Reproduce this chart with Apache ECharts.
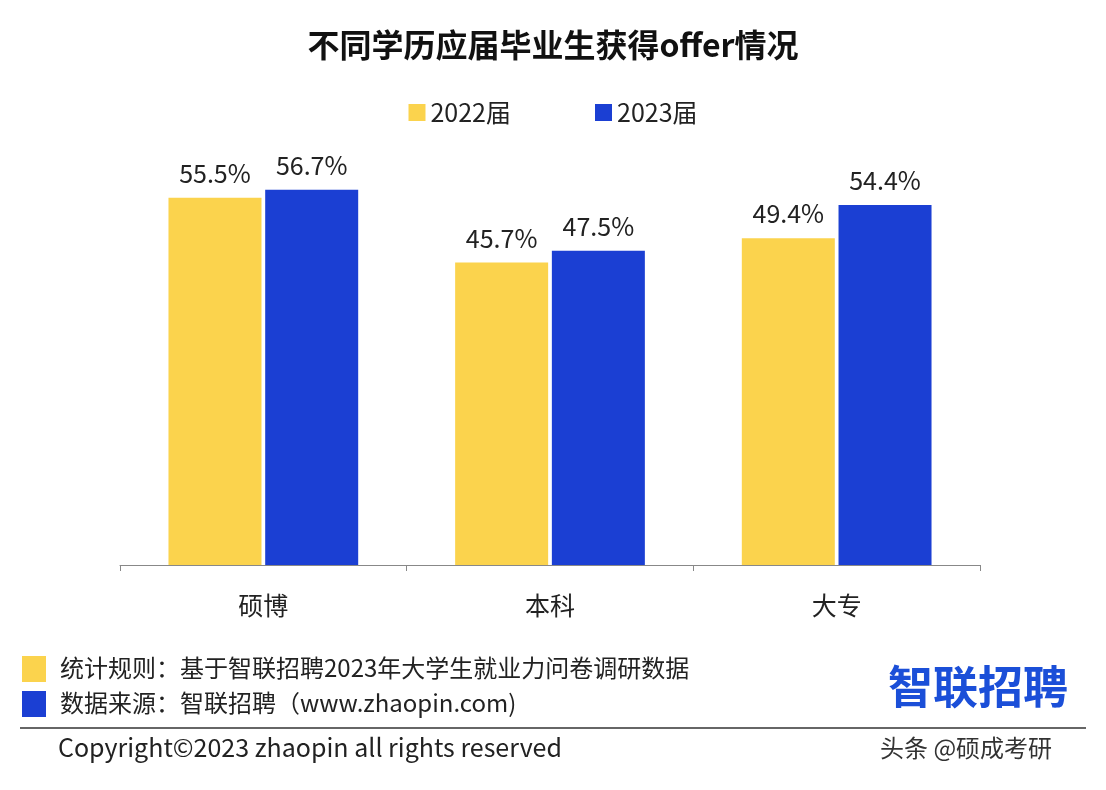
<!DOCTYPE html><html><head><meta charset="utf-8">
<script src="https://cdn.jsdelivr.net/npm/echarts@6/dist/echarts.min.js"></script>
<style>html,body{margin:0;background:#fff}#c{width:1106px;height:790px}</style></head><body><div id="c"></div>
<script>
const categories=['硕博','本科','大专'];
const s2022=[55.5,45.7,49.4];
const s2023=[56.7,47.5,54.4];
const seriesNames=['2022届','2023届'];
const F='"Noto Sans CJK SC","Noto Sans",sans-serif';
const c=echarts.init(document.getElementById('c'));
const lbl={show:true,position:'top',distance:12,formatter:p=>p.value.toFixed(1)+'%',fontSize:25,color:'#222',fontFamily:F};
c.setOption({
 animation:false,
 title:{text:'不同学历应届毕业生获得offer情况',left:'center',top:24,textStyle:{fontSize:32,fontWeight:'bold',color:'#111',fontFamily:F}},
 legend:{top:95,left:'center',itemGap:84,itemWidth:17,itemHeight:17,icon:'rect',textStyle:{fontSize:25,color:'#222',fontFamily:F},data:seriesNames},
 grid:{left:120,right:126,top:168,bottom:225},
 xAxis:{type:'category',data:categories,axisLine:{lineStyle:{color:'#888'}},axisTick:{show:true,length:6,lineStyle:{color:'#888'}},axisLabel:{fontSize:25,color:'#222',margin:28,fontFamily:F}},
 yAxis:{type:'value',min:0,max:60,show:false,splitLine:{show:false}},
 series:[
  {name:seriesNames[0],type:'bar',data:s2022,barWidth:93,barGap:'4%',itemStyle:{color:'#FBD34D'},label:lbl},
  {name:seriesNames[1],type:'bar',data:s2023,barWidth:93,itemStyle:{color:'#1B3FD3'},label:lbl}
 ],
 graphic:[
  {type:'rect',shape:{x:22,y:656,width:24,height:26},style:{fill:'#FBD34D'}},
  {type:'text',x:60,y:656,style:{text:'统计规则：基于智联招聘2023年大学生就业力问卷调研数据',fontSize:24,fill:'#222',fontFamily:F}},
  {type:'rect',shape:{x:22,y:691,width:24,height:26},style:{fill:'#1B3FD3'}},
  {type:'text',x:60,y:691,style:{text:'数据来源：智联招聘（www.zhaopin.com)',fontSize:24,fill:'#222',fontFamily:F}},
  {type:'text',x:888,y:664,style:{text:'智联招聘',fontSize:45,fontWeight:'bold',fill:'#1B4FD8',fontFamily:F}},
  {type:'line',shape:{x1:20,y1:728,x2:1086,y2:728},style:{stroke:'#333',lineWidth:1.5}},
  {type:'text',x:58,y:735,style:{text:'Copyright©2023 zhaopin all rights reserved',fontSize:25,fill:'#222',fontFamily:F}},
  {type:'text',x:880,y:736,style:{text:'头条 @硕成考研',fontSize:24,fill:'#333',fontFamily:F}}
 ]
});
</script></body></html>
